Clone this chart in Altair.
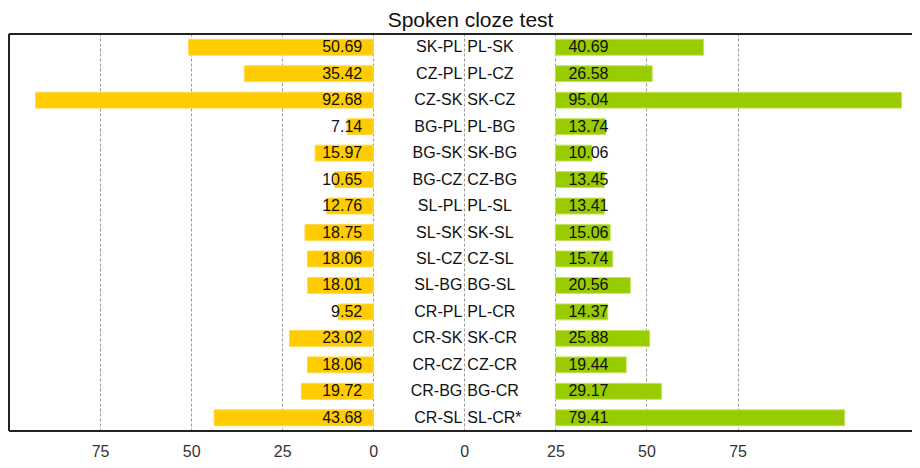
import altair as alt
import pandas as pd

# ---- data ----
left_labels = ["SK-PL", "CZ-PL", "CZ-SK", "BG-PL", "BG-SK", "BG-CZ", "SL-PL", "SL-SK",
               "SL-CZ", "SL-BG", "CR-PL", "CR-SK", "CR-CZ", "CR-BG", "CR-SL"]
left_values = [50.69, 35.42, 92.68, 7.14, 15.97, 10.65, 12.76, 18.75,
               18.06, 18.01, 9.52, 23.02, 18.06, 19.72, 43.68]
right_labels = ["PL-SK", "PL-CZ", "SK-CZ", "PL-BG", "SK-BG", "CZ-BG", "PL-SL", "SK-SL",
                "CZ-SL", "BG-SL", "PL-CR", "SK-CR", "CZ-CR", "BG-CR", "SL-CR*"]
right_values = [40.69, 26.58, 95.04, 13.74, 10.06, 13.45, 13.41, 15.06,
                15.74, 20.56, 14.37, 25.88, 19.44, 29.17, 79.41]

tick_positions = [-75, -50, -25, 0, 25, 50, 75, 100]
tick_labels = ["75", "50", "25", "0", "0", "25", "50", "75"]

# ---- layout constants (shared axis units) ----
RIGHT_AXIS_ZERO = 25   # right panel's "0" tick sits 25 units right of the left zero
RIGHT_BAR_START = 50   # right bars start at the right panel's "25" tick
W, H = 903, 397
FONT = "Liberation Sans"

df = pd.DataFrame({
    "row": list(range(len(left_labels))),
    "llab": left_labels,
    "lval": left_values,
    "rlab": right_labels,
    "rval": right_values,
})
df["lstart"] = -df["lval"]
df["zero"] = 0
df["mid"] = RIGHT_AXIS_ZERO
df["rstart"] = RIGHT_BAR_START
df["rend"] = RIGHT_BAR_START + df["rval"]

xscale = alt.Scale(domain=[-100, 147.9], nice=False, zero=False)
yenc = alt.Y("row:O", axis=None, scale=alt.Scale(paddingInner=0.4, paddingOuter=0.2))

label_expr = (
    "[" + ",".join(f"'{t}'" for t in tick_labels) + "]"
    + "[indexof([" + ",".join(str(p) for p in tick_positions) + "], datum.value)]"
)

xaxis = alt.Axis(
    values=tick_positions, labelExpr=label_expr, title=None,
    domain=False, ticks=False, tickSize=0, grid=True, gridDash=[3, 2], gridColor="#9a9a9a",
    gridWidth=1, labelFont=FONT, labelFontSize=16, labelColor="#333333",
    labelPadding=25, labelBaseline="alphabetic",
)

base = alt.Chart(df)

left_bars = base.mark_bar(color="#FFCC00", stroke="#FFD84D", strokeWidth=1).encode(
    x=alt.X("lstart:Q", scale=xscale, axis=xaxis),
    x2="zero:Q",
    y=yenc,
)
right_bars = base.mark_bar(color="#99CC00", stroke="#C2E25A", strokeWidth=1).encode(
    x=alt.X("rstart:Q", scale=xscale),
    x2="rend:Q",
    y=yenc,
)

txt = dict(font=FONT, fontSize=16, color="#111111", baseline="middle")

left_vals = base.mark_text(align="right", dx=-11, **txt).encode(
    x=alt.X("zero:Q", scale=xscale), y=yenc,
    text=alt.Text("lval:Q", format=".2f"),
)
right_vals = base.mark_text(align="left", dx=13, **txt).encode(
    x=alt.X("rstart:Q", scale=xscale), y=yenc,
    text=alt.Text("rval:Q", format=".2f"),
)
left_names = base.mark_text(align="right", dx=-2, **txt).encode(
    x=alt.X("mid:Q", scale=xscale), y=yenc, text="llab:N",
)
right_names = base.mark_text(align="left", dx=3, **txt).encode(
    x=alt.X("mid:Q", scale=xscale), y=yenc, text="rlab:N",
)

one = alt.Chart(pd.DataFrame({"a": [0]}))
frame_top = one.mark_rule(color="#222222", strokeWidth=2).encode(
    x=alt.value(0), x2=alt.value(W), y=alt.value(0))
frame_bottom = one.mark_rule(color="#222222", strokeWidth=2).encode(
    x=alt.value(0), x2=alt.value(W), y=alt.value(H))
frame_left = one.mark_rule(color="#222222", strokeWidth=2).encode(
    x=alt.value(0), y=alt.value(0), y2=alt.value(H))

chart = alt.layer(
    left_bars, right_bars, left_vals, right_vals, left_names, right_names,
    frame_top, frame_bottom, frame_left,
).properties(
    width=W, height=H,
    title=alt.Title("Spoken cloze test", font=FONT, fontSize=21, fontWeight="normal",
                    color="#111111", dx=10, offset=2),
    autosize=alt.AutoSizeParams(type="none"),
    padding={"left": 1, "top": 26, "right": 0, "bottom": 29},
).configure_view(stroke=None).configure(background="white")

chart.save("out.html", embed_options={"renderer": "svg", "actions": False})
